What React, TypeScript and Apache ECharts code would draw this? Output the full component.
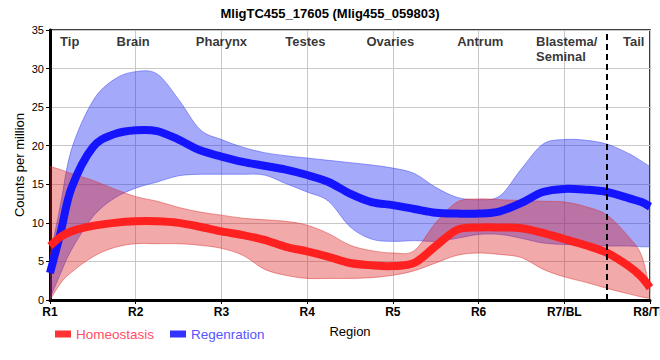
import React, { useEffect, useRef } from "react";
import * as echarts from "echarts";

const title = "MligTC455_17605 (Mlig455_059803)";
const regions = ["R1", "R2", "R3", "R4", "R5", "R6", "R7/BL", "R8/TL"];
const tissues = ["Tip", "Brain", "Pharynx", "Testes", "Ovaries", "Antrum", "Blastema/\nSeminal", "Tail"];
const tissueX = [1.23, 1.97, 3.0, 3.98, 4.97, 6.02, 6.67, 7.81];
const tissueY = 34.5;
const tailBoundary = 7.5;

const sampleX = [1, 1.125, 1.25, 1.5, 1.75, 2, 2.25, 2.5, 2.75, 3, 3.25, 3.5, 3.75, 4, 4.25, 4.5, 4.75, 5, 5.25, 5.5, 5.75, 6, 6.25, 6.5, 6.75, 7, 7.25, 7.5, 7.75, 7.9, 8];

const regenMean = [3.5, 8.8, 14.5, 19.8, 21.5, 22.0, 21.9, 20.8, 19.4, 18.6, 17.9, 17.4, 16.9, 16.2, 15.3, 13.8, 12.7, 12.3, 11.8, 11.3, 11.2, 11.2, 11.5, 12.6, 14.0, 14.4, 14.3, 14.0, 13.2, 12.7, 12.1];
const regenHigh = [5.5, 12.5, 19.5, 25.8, 28.6, 29.6, 29.3, 26.0, 22.1, 20.8, 19.8, 19.1, 18.7, 18.4, 18.1, 17.8, 17.5, 17.1, 16.4, 14.6, 13.3, 13.0, 13.5, 17.0, 20.2, 20.8, 20.7, 20.2, 19.0, 18.0, 17.3];
const regenLow = [0.2, 3.5, 6.5, 10.8, 13.2, 14.5, 15.3, 16.1, 16.3, 16.3, 16.3, 16.2, 15.1, 14.0, 12.8, 9.5, 7.9, 7.6, 7.7, 7.6, 8.0, 8.5, 8.5, 8.0, 7.4, 7.2, 7.1, 7.0, 7.0, 6.9, 6.9];

const homeoMean = [7.0, 8.2, 8.9, 9.6, 10.0, 10.2, 10.2, 10.0, 9.5, 8.9, 8.4, 7.8, 6.9, 6.3, 5.6, 4.8, 4.5, 4.4, 4.8, 7.0, 9.1, 9.4, 9.4, 9.3, 8.7, 7.9, 7.1, 6.1, 4.4, 3.0, 1.6];
const homeoHigh = [17.3, 16.9, 16.4, 15.5, 14.4, 13.4, 12.8, 12.0, 11.4, 11.0, 10.6, 10.4, 10.2, 9.7, 8.6, 7.1, 6.4, 6.1, 6.4, 10.0, 12.7, 13.1, 13.0, 12.9, 12.8, 12.7, 12.1, 11.0, 8.2, 5.8, 1.3];
const homeoLow = [0.0, 2.2, 3.6, 5.6, 6.8, 7.3, 7.3, 7.3, 7.1, 6.7, 5.8, 4.0, 3.2, 2.8, 2.8, 2.8, 2.9, 3.2, 3.8, 4.8, 5.8, 6.1, 5.9, 5.5, 4.0, 3.0, 2.3, 1.5, 0.8, 0.4, 0.2];

const FONT = "'Liberation Sans', Arial, sans-serif";

// Catmull-Rom spline through pixel points -> cubic bezier path segments
function splineSegs(p: number[][]): string {
  let d = "";
  const n = p.length;
  for (let i = 0; i < n - 1; i++) {
    const p0 = p[Math.max(i - 1, 0)];
    const p1 = p[i];
    const p2 = p[i + 1];
    const p3 = p[Math.min(i + 2, n - 1)];
    const lo = Math.min(p1[0], p2[0]);
    const hi = Math.max(p1[0], p2[0]);
    const clampX = (x: number) => Math.min(hi, Math.max(lo, x));
    const c1x = clampX(p1[0] + (p2[0] - p0[0]) / 6);
    const c1y = p1[1] + (p2[1] - p0[1]) / 6;
    const c2x = clampX(p2[0] - (p3[0] - p1[0]) / 6);
    const c2y = p2[1] - (p3[1] - p1[1]) / 6;
    d += ` C${c1x},${c1y} ${c2x},${c2y} ${p2[0]},${p2[1]}`;
  }
  return d;
}

export default function App() {
  const ref = useRef<HTMLDivElement>(null);
  useEffect(() => {
    document.body.style.margin = "0";
    const chart = echarts.init(ref.current!, null, { renderer: "svg" });

    const bandSeries = (hi: number[], lo: number[], fill: string, edge: string) => ({
      type: "custom",
      silent: true,
      z: 2,
      data: sampleX.map((x, i) => [x, hi[i], lo[i]]),
      encode: { x: 0, y: [1, 2] },
      renderItem: (params: any, api: any) => {
        if (params.dataIndex !== 0) return null;
        const up = sampleX.map((x, i) => api.coord([x, hi[i]]));
        const dn = sampleX.map((x, i) => api.coord([x, lo[i]])).reverse();
        const upD = `M${up[0][0]},${up[0][1]}` + splineSegs(up);
        const dnD = `M${dn[0][0]},${dn[0][1]}` + splineSegs(dn);
        const fillD = upD + ` L${dn[0][0]},${dn[0][1]}` + splineSegs(dn) + " Z";
        return {
          type: "group",
          children: [
            { type: "path", shape: { pathData: fillD }, style: { fill, stroke: null } },
            { type: "path", shape: { pathData: upD }, style: { fill: null, stroke: edge, lineWidth: 1 } },
            { type: "path", shape: { pathData: dnD }, style: { fill: null, stroke: edge, lineWidth: 1 } },
          ],
        };
      },
    });

    const lineSeries = (name: string, ys: number[], color: string, legendColor: string) => ({
      type: "custom",
      name,
      silent: true,
      z: 3,
      itemStyle: { color: legendColor },
      data: sampleX.map((x, i) => [x, ys[i]]),
      encode: { x: 0, y: 1 },
      renderItem: (params: any, api: any) => {
        if (params.dataIndex !== 0) return null;
        const p = sampleX.map((x, i) => api.coord([x, ys[i]]));
        const d = `M${p[0][0]},${p[0][1]}` + splineSegs(p);
        return {
          type: "path",
          shape: { pathData: d },
          style: { fill: null, stroke: color, lineWidth: 8, lineCap: "butt", lineJoin: "round" },
        };
      },
    });

    chart.setOption({
      animation: false,
      textStyle: { fontFamily: FONT },
      title: {
        text: title,
        left: "center",
        top: 2,
        textStyle: { fontSize: 13, fontWeight: "bold", color: "#000", fontFamily: FONT },
      },
      grid: {
        left: 50,
        right: 10,
        top: 30,
        bottom: 60,
        outerBoundsMode: "none",
        containLabel: false,
        show: true,
        borderColor: "#000",
        borderWidth: 1.5,
        backgroundColor: "transparent",
      },
      legend: {
        left: 55,
        top: 327,
        padding: 0,
        itemWidth: 16,
        itemHeight: 7,
        itemGap: 16,
        icon: "rect",
        textStyle: { fontSize: 13.5, fontFamily: FONT },
        data: [
          { name: "Homeostasis", itemStyle: { color: "#ff3333", borderWidth: 0 }, textStyle: { color: "#ff4d66" } },
          { name: "Regenration", itemStyle: { color: "#3333ff", borderWidth: 0 }, textStyle: { color: "#5555ff" } },
        ],
      },
      xAxis: {
        type: "value",
        min: 1,
        max: 8,
        interval: 1,
        name: "Region",
        nameLocation: "middle",
        nameGap: 25,
        nameMoveOverlap: false,
        nameTextStyle: { fontSize: 13, color: "#000", fontFamily: FONT },
        axisLine: { lineStyle: { color: "#000", width: 3 } },
        axisTick: { show: true, length: 4, lineStyle: { color: "#000", width: 1 } },
        axisLabel: {
          formatter: (v: number) => regions[Math.round(v) - 1] ?? "",
          fontWeight: "bold",
          fontSize: 12,
          color: "#000",
          margin: 6,
          showMinLabel: true,
          showMaxLabel: true,
          hideOverlap: false,
          fontFamily: FONT,
        },
        splitLine: { show: true, lineStyle: { color: "#c8c8c8", width: 1 } },
      },
      yAxis: {
        type: "value",
        min: 0,
        max: 35,
        interval: 5,
        name: "Counts per million",
        nameLocation: "middle",
        nameGap: 24,
        nameMoveOverlap: false,
        nameTextStyle: { fontSize: 13, color: "#000", fontFamily: FONT },
        axisLine: { show: true, lineStyle: { color: "#000", width: 3 } },
        axisTick: { show: true, length: 4, lineStyle: { color: "#000", width: 1 } },
        axisLabel: { fontSize: 11, color: "#000", margin: 6, fontFamily: FONT },
        splitLine: { show: true, lineStyle: { color: "#c8c8c8", width: 1 } },
      },
      series: [
        bandSeries(regenHigh, regenLow, "rgba(30,40,240,0.4)", "rgba(70,80,240,0.55)"),
        lineSeries("Regenration", regenMean, "#1414ff", "#3333ff"),
        bandSeries(homeoHigh, homeoLow, "rgba(220,30,30,0.38)", "rgba(220,50,50,0.5)"),
        lineSeries("Homeostasis", homeoMean, "#ff2020", "#ff3333"),
        {
          type: "scatter",
          silent: true,
          symbolSize: 0,
          z: 5,
          data: tissues.map((t, i) => ({
            name: t,
            value: [tissueX[i], tissueY],
            label: t.includes("\n") ? { align: "left" } : {},
          })),
          label: {
            show: true,
            position: "inside",
            formatter: "{b}",
            fontSize: 13,
            fontWeight: "bold",
            color: "#000",
            align: "center",
            verticalAlign: "top",
            lineHeight: 15,
            fontFamily: FONT,
          },
          markLine: {
            silent: true,
            symbol: ["none", "none"],
            label: { show: false },
            lineStyle: { type: [6, 4], color: "#000", width: 2 },
            data: [{ xAxis: tailBoundary }],
          },
        },
      ],
    });
    return () => chart.dispose();
  }, []);
  return <div ref={ref} style={{ width: 660, height: 360 }} />;
}
